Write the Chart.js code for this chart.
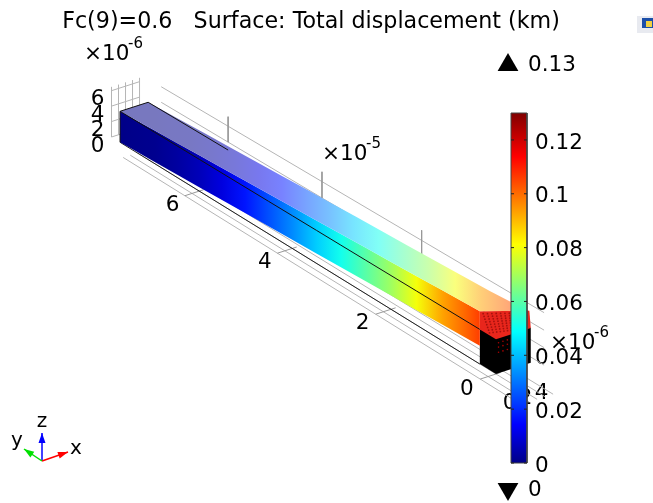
<!DOCTYPE html>
<html>
<head>
<meta charset="utf-8">
<title>Surface: Total displacement</title>
<script src="https://cdn.jsdelivr.net/npm/chart.js@4"></script>
<style>
html, body { margin: 0; background: #fff; }
canvas { display: block; }
</style>
</head>
<body>
<canvas id="chart" width="653" height="503"></canvas>
<script>
// values (x in 1e-5 km, y and z in 1e-6 km, displacement in km)
const stationX = [7.8, 7.5, 7, 6.5, 6, 5.5, 5, 4.5, 4, 3.5, 3, 2.5, 2, 1.5, 1, 0.5, 0.3];
const displacement = [0, 0.0005, 0.001, 0.003, 0.006, 0.0105, 0.017, 0.025, 0.033, 0.042, 0.051, 0.06, 0.069, 0.08, 0.093, 0.102, 0.106];
const liftZ = [0, 0.08, 0.22, 0.36, 0.5, 0.64, 0.78, 0.92, 1.06, 1.2, 1.34, 1.48, 1.62, 1.76, 1.9, 2.04, 2.1];
const spreadY = [0, 0.09, 0.25, 0.4, 0.55, 0.7, 0.85, 1, 1.15, 1.3, 1.45, 1.6, 1.75, 1.9, 2.05, 2.2, 2.3];
const backLiftZ = [0, 0, 0.02, 0.03, 0.04, 0.05, 0.06, 0.07, 0.08, 0.09, 0.09, 0.08, 0.08, 0.07, 0.1, 0.2, 0.3];

const xTicks = [0, 2, 4, 6];
const yTicks = [0, 2, 4];
const zTicks = [0, 2, 4, 6];
const endGridY = [0, 1, 2, 3, 4];
const floorLinesY = [-2, -1, 0, 1, 2];
const wallLinesZ = [1, 3, 5, 7];
const colorbarTicks = [0, 0.02, 0.04, 0.06, 0.08, 0.1, 0.12];
const colorbarMax = 0.13;

const titleText = 'Fc(9)=0.6   Surface: Total displacement (km)';

const jetPos = [0, 0.11, 0.375, 0.625, 0.875, 1];
const jetRgb = [[0, 0, 135], [0, 0, 255], [0, 255, 255], [255, 255, 0], [255, 0, 0], [128, 0, 0]];

function jet(t, white) {
    t = Math.max(0, Math.min(1, t));
    let i = 0;
    while (i < jetPos.length - 2 && t > jetPos[i + 1]) i++;
    const f = (t - jetPos[i]) / (jetPos[i + 1] - jetPos[i]);
    const c = jetRgb[i].map((a, k) => {
        const v = a + (jetRgb[i + 1][k] - a) * f;
        return Math.round(v + (255 - v) * (white || 0));
    });
    return 'rgb(' + c.join(',') + ')';
}

// camera of the 3D view, perspective between the x=0 and x=8 frames
function project(x, y, z) {
    const s = x / 8;
    const w = (1 - s) + s * 1.127;
    const t = s * 1.127 / w;
    return {
        x: 496 - 384.5 * t + 7.9 * y / w,
        y: 374 - 237 * t - (2.54 * y + 8.7 * z) / w
    };
}

const layers = [];  // back to front, reversed before it goes to the chart

function addLine(points, color, width) {
    layers.push({ data: points, showLine: true, borderColor: color, borderWidth: width || 1, pointRadius: 0, fill: false });
}
function addPoly(points, color, edge) {
    const layer = { data: points, showLine: true, fill: 'shape', backgroundColor: 'transparent', borderColor: edge || 'transparent', borderWidth: edge ? 1 : 0, pointRadius: 0 };
    // gradients need the laid out scales, they get filled in after the first update
    if (typeof color === 'function') layer.makeFill = color;
    else layer.backgroundColor = color;
    layers.push(layer);
}

const gridGray = '#b5b5b5';

// grid on the far end
endGridY.forEach(y => addLine([project(8, y, 0), project(8, y, 6.5)], gridGray));
zTicks.forEach(z => addLine([project(8, 0, z), project(8, 4, z)], gridGray));
// back wall lines and x ticks
wallLinesZ.forEach(z => addLine([project(-0.3, 4, z), project(7.5, 4, z)], gridGray));
xTicks.filter(x => x > 0).forEach(x => addLine([project(x, 4, 8.2), project(x, 4, 5)], '#999'));
// floor lines and x ticks
floorLinesY.forEach(y => addLine([project(-0.75, y, 0), project(7.4, y, 0)], gridGray));
xTicks.forEach(x => addLine([project(x, -2, 0), project(x, 0.6, 0)], '#999'));

// undeformed end of the beam, almost black from the mesh
addPoly([project(0.3, 0, 0), project(0, 0, 0), project(0, 4.4, 0), project(0, 4.4, 4), project(0.3, 4.4, 4), project(0.3, 0, 4)], '#000');
addLine([project(7.8, 0, 0), project(0.3, 0, 0)], '#222');

// deformed end
addPoly([project(0.3, 0, 6.1), project(0.3, 6.3, 4.3), project(0, 4.4, 4), project(0, 0, 4), project(0.3, 0, 4)], '#e8261c');

const meshDots = [];
for (let u = 0.05; u < 1; u += 0.09) {
    for (let v = 0.05; v < 1; v += 0.12) {
        const a = project(0.15 - 0.15 * u, 4 * u, 4);
        const b = project(0.3, 6.3 * u, 6.1 - 1.8 * u);
        meshDots.push({ x: a.x + (b.x - a.x) * v, y: a.y + (b.y - a.y) * v });
    }
}
layers.push({ data: meshDots, pointRadius: 0.9, pointBackgroundColor: 'rgba(110,0,0,0.55)', pointBorderWidth: 0, showLine: false });

const speckles = [];
for (let u = 0.08; u < 1; u += 0.14) {
    [3.5, 3, 2.4].forEach(z => speckles.push(project(0, 4 * u, z)));
}
layers.push({ data: speckles, pointRadius: 0.8, pointBackgroundColor: '#a00', pointBorderWidth: 0, showLine: false });

// gradient along the beam, stops from the displacement values
function beamGradient(pick, white) {
    return function (chart) {
        const scale = chart.scales.x;
        const left = scale.getPixelForValue(pick(0).x);
        const right = scale.getPixelForValue(pick(stationX.length - 1).x);
        const g = chart.ctx.createLinearGradient(left, 0, right, 0);
        stationX.forEach((x, i) => {
            const off = (scale.getPixelForValue(pick(i).x) - left) / (right - left);
            g.addColorStop(Math.max(0, Math.min(1, off)), jet(displacement[i] / colorbarMax, white));
        });
        return g;
    };
}

// side face
const sideTop = stationX.map((x, i) => project(x, 0, 4 + liftZ[i]));
const sideBottom = stationX.map((x, i) => project(x, 0, liftZ[i]));
addPoly(sideTop.concat(sideBottom.slice().reverse()), beamGradient(i => project(stationX[i], 0, 2)));

// top face, washed out by the light
const topBack = stationX.map((x, i) => project(x, 4 + spreadY[i], 4 + backLiftZ[i]));
addPoly(sideTop.concat(topBack.slice().reverse()), beamGradient(i => project(stationX[i], 5, 5), 0.47));

// undeformed edges drawn over the surface
addLine(stationX.map(x => project(x, 0, 4)), '#111');
addLine([project(7.8, 0, 0), project(7.8, 0, 4), project(7.8, 4, 4), project(6, 4, 4)], '#111');

// colour bar
const barLeft = 511, barRight = 527, barTop = 113, barBottom = 463;
function barY(v) { return barBottom - v / colorbarMax * (barBottom - barTop); }
addPoly([{ x: barLeft, y: barTop }, { x: barRight, y: barTop }, { x: barRight, y: barBottom }, { x: barLeft, y: barBottom }, { x: barLeft, y: barTop }],
    function (chart) {
        const sy = chart.scales.y;
        const g = chart.ctx.createLinearGradient(0, sy.getPixelForValue(barBottom), 0, sy.getPixelForValue(barTop));
        jetPos.forEach(p => g.addColorStop(p, jet(p)));
        return g;
    }, '#444');
colorbarTicks.forEach(v => {
    addLine([{ x: barLeft, y: barY(v) }, { x: barLeft + 3, y: barY(v) }], '#222');
    addLine([{ x: barRight - 3, y: barY(v) }, { x: barRight, y: barY(v) }], '#222');
});

// max and min markers
layers.push({ data: [{ x: 508, y: 65 }], pointStyle: 'triangle', pointRadius: 12, pointBackgroundColor: '#000', pointBorderWidth: 0, showLine: false });
layers.push({ data: [{ x: 508, y: 489 }], pointStyle: 'triangle', pointRotation: 180, pointRadius: 12, pointBackgroundColor: '#000', pointBorderWidth: 0, showLine: false });

// axis triad
const triadOrigin = { x: 42, y: 461 };
[[{ x: 42, y: 433 }, '#0000ff'], [{ x: 68, y: 452 }, '#ff0000'], [{ x: 24, y: 449 }, '#00e000']].forEach(([tip, color]) => {
    const dx = tip.x - triadOrigin.x, dy = tip.y - triadOrigin.y;
    const len = Math.hypot(dx, dy);
    const bx = tip.x - dx / len * 10, by = tip.y - dy / len * 10;
    addLine([triadOrigin, tip], color, 1.5);
    addPoly([tip, { x: bx - dy / len * 3.5, y: by + dx / len * 3.5 }, { x: bx + dy / len * 3.5, y: by - dx / len * 3.5 }], color);
});

const textPlugin = {
    id: 'viewText',
    beforeDatasetsDraw(chart) {
        const { ctx, scales } = chart;
        function label(text, p, size, align) {
            ctx.font = size + 'px "DejaVu Sans"';
            ctx.textAlign = align || 'center';
            ctx.textBaseline = 'middle';
            ctx.fillStyle = '#000';
            // +3: middle baseline sits above the digit centre in this font
            ctx.fillText(text, scales.x.getPixelForValue(p.x), scales.y.getPixelForValue(p.y) + 3);
        }
        function power(px, py, exp) {
            label('\u00d710', { x: px, y: py }, 21.5, 'left');
            label(exp, { x: px + 44, y: py - 10 }, 15, 'left');
        }
        label(titleText, { x: 311, y: 19 }, 22.2);
        power(84, 51, '-6');
        power(322, 151, '-5');
        power(550, 340, '-6');
        xTicks.forEach(x => label(String(x), project(x, -3.7, -0.3), 21.5));
        yTicks.forEach(y => label(String(y), project(-0.6, y - 2.4, 0), 21.5));
        zTicks.forEach(z => label(String(z), project(8, -2, z - 0.2), 21.5));
        colorbarTicks.forEach(v => label(String(v), { x: 535, y: barY(v) }, 21.5, 'left'));
        label('0.13', { x: 528, y: 62 }, 21.5, 'left');
        label('0', { x: 528, y: 487 }, 21.5, 'left');
        label('z', { x: 42, y: 419 }, 20);
        label('x', { x: 76, y: 446 }, 20);
        label('y', { x: 17, y: 438 }, 20);
        // window icon in the corner
        ctx.fillStyle = '#e8eaf0';
        ctx.fillRect(637, 16, 16, 17);
        ctx.fillStyle = '#1c4fa8';
        ctx.fillRect(642, 18, 11, 10);
        ctx.fillStyle = '#f0d040';
        ctx.fillRect(646, 21, 6, 6);
    }
};

const chart = new Chart(document.getElementById('chart').getContext('2d'), {
    type: 'scatter',
    data: { datasets: layers.slice().reverse() },
    plugins: [textPlugin],
    options: {
        responsive: false,
        animation: false,
        layout: { padding: 0, autoPadding: false },
        plugins: { legend: { display: false }, title: { display: false }, tooltip: { enabled: false } },
        elements: { line: { tension: 0 } },
        scales: {
            x: { type: 'linear', min: 0, max: 653, display: false },
            y: { type: 'linear', min: 0, max: 503, reverse: true, display: false }
        }
    }
});

layers.forEach(layer => {
    if (layer.makeFill) layer.backgroundColor = layer.makeFill(chart);
});
chart.update('none');
</script>
</body>
</html>
